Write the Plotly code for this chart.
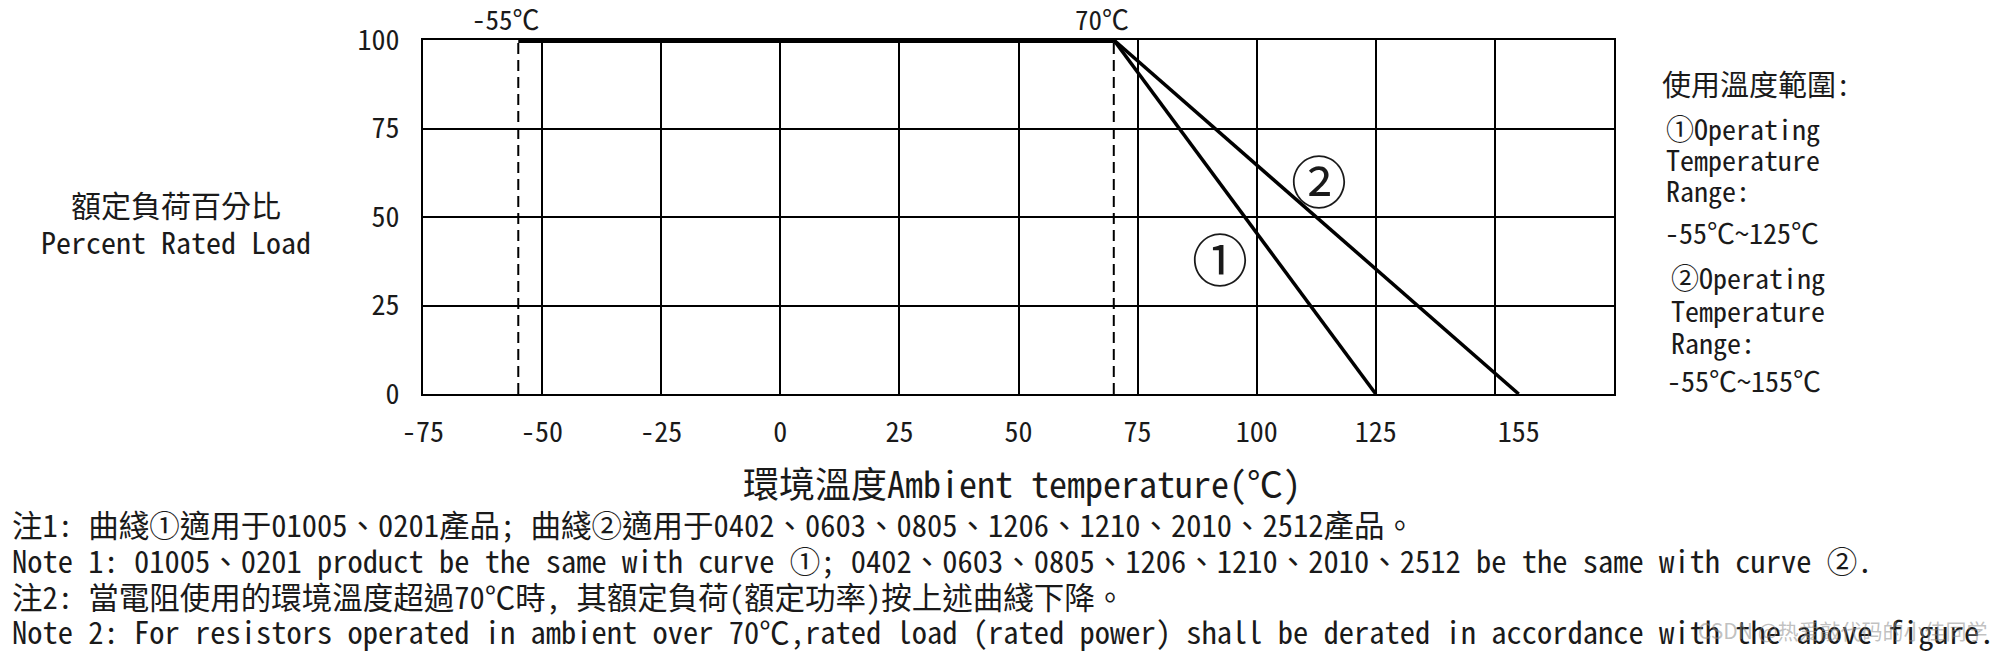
import plotly.graph_objects as go

# ---- data ----
flat_x = [-55, 70]
flat_y = [100, 100]
curve1_x = [70, 125]
curve1_y = [100, 0]
curve2_x = [70, 155]
curve2_y = [100, 0]
limit_temps = [-55, 70]
limit_labels = ["-55℃", "70℃"]
curve_marks = ["①", "②"]
curve_mark_x = [92.3, 113.1]
curve_mark_y = [36, 58]
x_tickvals = [-75, -50, -25, 0, 25, 50, 75, 100, 125, 155]
x_ticktext = ["-75", "-50", "-25", "0", "25", "50", "75", "100", "125", "155"]
y_tickvals = [0, 25, 50, 75, 100]

W, H = 2000, 655
L, R, T, B = 423, 1614, 40, 394

def px(x):
    return (x - L) / (R - L)

def py(y):
    return (B - y) / (B - T)

MONO = "Noto Sans Mono CJK TC, Noto Sans Mono CJK SC, Liberation Mono, monospace"
INK = "#1a1a1a"

fig = go.Figure()

for xv in limit_temps:
    fig.add_trace(go.Scatter(x=[xv, xv], y=[0, 100], mode="lines",
                             line=dict(color="black", width=2, dash="11px,6px"),
                             showlegend=False, hoverinfo="skip"))

fig.add_trace(go.Scatter(x=curve1_x, y=curve1_y, mode="lines",
                         line=dict(color="black", width=3.5), showlegend=False))
fig.add_trace(go.Scatter(x=curve2_x, y=curve2_y, mode="lines",
                         line=dict(color="black", width=3.5), showlegend=False))
fig.add_trace(go.Scatter(x=flat_x, y=flat_y, mode="lines",
                         line=dict(color="black", width=6), showlegend=False, cliponaxis=False))
fig.add_trace(go.Scatter(x=curve_mark_x, y=curve_mark_y, mode="text", text=curve_marks,
                         textfont=dict(family="Noto Sans CJK TC", size=56, color=INK),
                         showlegend=False))

annotations = []
for xv, lab in zip(limit_temps, limit_labels):
    annotations.append(dict(x=xv, y=100, xref="x", yref="y", text=lab, showarrow=False,
                            xanchor="center", yanchor="middle", xshift=-12, yshift=22,
                            font=dict(family=MONO, size=27, color=INK)))

def add_text(x, y, text, size=28, family=MONO, xanchor="left", color=INK, align="left"):
    annotations.append(dict(x=px(x), y=py(y), xref="paper", yref="paper", text=text,
                            showarrow=False, xanchor=xanchor, yanchor="middle", align=align,
                            font=dict(family=family, size=size, color=color)))

def block(lines, glyph_px):
    return "<br>".join('<span style="font-size:%spx">%s</span>' % (glyph_px, t) for t in lines)

# y-axis title (line spacing 37 px -> base size 28.5)
ytitle_lines = ["額定負荷百分比", "Percent Rated Load"]
add_text(176, 222, block(ytitle_lines, 30), size=28.5, xanchor="center", align="center")

# x-axis title
add_text(1022, 482, "環境溫度Ambient temperature(℃)", size=36, xanchor="center")

# right block
add_text(1660, 83, "使用溫度範圍:", size=29)
add_text(1664, 159, block(["①Operating", "Temperature", "Range:"], 28), size=24)
add_text(1663, 232, "-55℃~125℃", size=28)
add_text(1669, 309, block(["②Operating", "Temperature", "Range:"], 28), size=25)
add_text(1665, 380, "-55℃~155℃", size=28)

notes = [
    "注1: 曲綫①適用于01005、0201產品; 曲綫②適用于0402、0603、0805、1206、1210、2010、2512產品。",
    "Note 1: 01005、0201 product be the same with curve ①; 0402、0603、0805、1206、1210、2010、2512 be the same with curve ②.",
    "注2: 當電阻使用的環境溫度超過70℃時, 其額定負荷(額定功率)按上述曲綫下降。",
    "Note 2: For resistors operated in ambient over 70℃,rated load (rated power) shall be derated in accordance with the above figure.",
]
add_text(10, 577, block(notes, 30.5), size=27.5)

# watermark
add_text(1990, 630, "CSDN @热爱敲代码的小佳同学", size=21, family="Noto Sans CJK SC",
         xanchor="right", color="rgba(140,140,140,0.55)")

fig.update_layout(
    width=W, height=H,
    margin=dict(l=L, r=W - R, t=T, b=H - B, pad=0),
    paper_bgcolor="white", plot_bgcolor="white",
    annotations=annotations,
    xaxis=dict(range=[-75, 175], tickmode="array", tickvals=x_tickvals, ticktext=x_ticktext,
               showgrid=False, zeroline=False, showline=True, linecolor="black", linewidth=2,
               mirror=True, ticks="", ticklabelstandoff=12,
               tickfont=dict(family=MONO, size=28, color=INK),
               minor=dict(tick0=-75, dtick=25, showgrid=True, gridcolor="black",
                          gridwidth=1.8, ticks="")),
    yaxis=dict(range=[0, 100], tickmode="array", tickvals=y_tickvals,
               showgrid=True, gridcolor="black", gridwidth=1.8, zeroline=False,
               showline=True, linecolor="black", linewidth=2, mirror=True, ticks="",
               ticklabelstandoff=16,
               tickfont=dict(family=MONO, size=28, color=INK)),
)

fig.write_html("out.html", config={"displayModeBar": False},
               post_script="document.body.style.margin='0';document.body.style.overflow='hidden';")
